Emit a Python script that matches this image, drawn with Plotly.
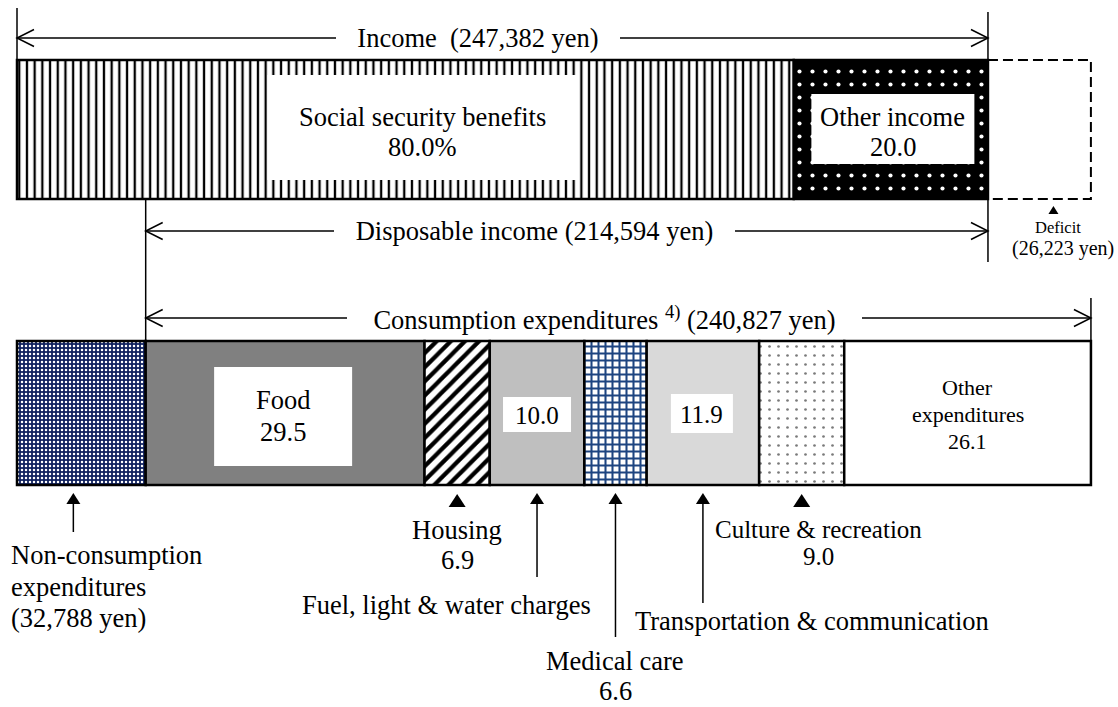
import plotly.graph_objects as go

# ---- household budget, monthly averages (yen / percent) ----
income_total = 247382
disposable_income = 214594
non_consumption = 32788
consumption_total = 240827
deficit = 26223

income_items = ["Social security benefits", "Other income"]
income_pct = [80.0, 20.0]

expense_items = ["Food", "Housing", "Fuel, light & water charges", "Medical care",
                 "Transportation & communication", "Culture & recreation",
                 "Other expenditures"]
expense_pct = [29.5, 6.9, 10.0, 6.6, 11.9, 9.0, 26.1]

# ---- canvas geometry (x axis in yen, y axis in screen pixels) ----
W, H = 1118, 707
PX_PER_YEN = 0.003925
LEFT_PX = 17
FONT = "Liberation Serif, Times New Roman, serif"


def px(n):
    """pixel length -> yen along the x axis"""
    return n / PX_PER_YEN


INC_Y, INC_H = 129.5, 139
EXP_Y, EXP_H = 413, 144
INC_TOP, INC_BOT = INC_Y - INC_H / 2, INC_Y + INC_H / 2
EXP_TOP, EXP_BOT = EXP_Y - EXP_H / 2, EXP_Y + EXP_H / 2

# income segments
inc_w = [p / 100 * income_total for p in income_pct]
inc_base = [sum(inc_w[:i]) for i in range(len(inc_w))]
inc_mid = [b + w / 2 for b, w in zip(inc_base, inc_w)]

# expenditure row: non-consumption then the consumption breakdown
exp_w = [p / 100 * consumption_total for p in expense_pct]
exp_base = [non_consumption + sum(exp_w[:i]) for i in range(len(exp_w))]
exp_mid = [b + w / 2 for b, w in zip(exp_base, exp_w)]
nc_mid = non_consumption / 2
disp_start = income_total - disposable_income
cons_end = non_consumption + consumption_total

# fill styles: (background, pattern shape, pattern colour, tile size, solidity)
income_styles = [
    ("white", "|", "black", 7.7, 0.3),
    ("black", ".", "white", 13, 0.08),
]
expense_styles = [
    ("#808080", "", None, 8, 0.3),
    ("white", "/", "black", 10, 0.42),
    ("#bfbfbf", "", None, 8, 0.3),
    ("white", "+", "#1d4480", 7, 0.5),
    ("#d9d9d9", "", None, 8, 0.3),
    ("white", ".", "#7a7a7a", 9, 0.07),
    ("white", "", None, 8, 0.3),
]
non_cons_style = ("#0f215e", ".", "white", 4, 0.3)

fig = go.Figure()


def add_segment(y, h, base, width, style):
    bg, shape, fg, size, solidity = style
    marker = dict(color=bg, line=dict(color="black", width=2.5))
    if shape:
        marker["pattern"] = dict(shape=shape, fgcolor=fg, fgopacity=1, size=size,
                                 solidity=solidity, fillmode="overlay")
    fig.add_trace(go.Bar(orientation="h", y=[y], x=[width], base=[base], width=h,
                         marker=marker, hoverinfo="skip", showlegend=False))


for b, w, st in zip(inc_base, inc_w, income_styles):
    add_segment(INC_Y, INC_H, b, w, st)
add_segment(EXP_Y, EXP_H, 0, non_consumption, non_cons_style)
for b, w, st in zip(exp_base, exp_w, expense_styles):
    add_segment(EXP_Y, EXP_H, b, w, st)

shapes = []
annotations = []


def seg(x0, y0, x1, y1, w=1.5):
    shapes.append(dict(type="line", xref="x", yref="y", x0=x0, y0=y0, x1=x1, y1=y1,
                       line=dict(color="black", width=w)))


def chevron(x_tip, y, direction):
    """open arrow head; direction -1 points left, +1 points right"""
    back = x_tip - direction * px(17)
    shapes.append(dict(type="path", xref="x", yref="y",
                       path=f"M{back},{y - 8.5} L{x_tip},{y} L{back},{y + 8.5}",
                       line=dict(color="black", width=1.5)))


def triangle(x, y_tip, half_w_px, h_px):
    shapes.append(dict(type="path", xref="x", yref="y",
                       path=(f"M{x - px(half_w_px)},{y_tip + h_px} L{x},{y_tip} "
                             f"L{x + px(half_w_px)},{y_tip + h_px} Z"),
                       fillcolor="black", line=dict(width=0)))


def white_box(xc, half_w_px, y0, y1):
    shapes.append(dict(type="rect", xref="x", yref="y",
                       x0=xc - px(half_w_px), x1=xc + px(half_w_px), y0=y0, y1=y1,
                       fillcolor="white", line=dict(width=0)))


def label(x, y, text, size=26.5, xanchor="center", **kw):
    annotations.append(dict(x=x, y=y, xref="x", yref="y", text=text, showarrow=False,
                            xanchor=xanchor, yanchor="middle",
                            font=dict(family=FONT, size=size, color="black"), **kw))


def span_arrow(x0, x1, y, text, shift_px, gap_px):
    seg(x0, y, x1, y)
    chevron(x0, y, -1)
    chevron(x1, y, +1)
    label((x0 + x1) / 2 + px(shift_px), y, text, bgcolor="white", width=gap_px,
          borderpad=0, borderwidth=0)


# guide lines
seg(0, 8, 0, INC_TOP)
seg(income_total, 12, income_total, 262)
seg(disp_start, INC_BOT, disp_start, EXP_TOP)
seg(cons_end, 298, cons_end, EXP_TOP)

span_arrow(0, income_total, 38, "Income\u00a0 (247,382 yen)", -24, 284)
span_arrow(disp_start, income_total, 231, "Disposable income (214,594 yen)", -32, 401)
span_arrow(non_consumption, cons_end, 318,
           "Consumption expenditures <sup>4)</sup> (240,827 yen)", -14, 515)

# deficit outline
shapes.append(dict(type="rect", xref="x", yref="y", x0=income_total, x1=income_total + deficit,
                   y0=INC_TOP, y1=INC_BOT, fillcolor="rgba(0,0,0,0)",
                   line=dict(color="black", width=2, dash="10px,5px")))
def_mid = income_total + deficit / 2
triangle(def_mid + px(14), 206, 5, 8)
label(def_mid + px(19), 227, "Deficit", size=16.5)
label(def_mid + px(24), 248, "(26,223 yen)", size=20)

# income labels
ss_x = inc_mid[0] + px(17)
white_box(ss_x, 155, 75, 180)
label(ss_x, 117, income_items[0])
label(ss_x, 147, f"{income_pct[0]:.1f}%")
oi_x = inc_mid[1] + px(2)
white_box(oi_x, 81.5, 94, 164)
label(oi_x, 117, income_items[1])
label(oi_x, 147, f"{income_pct[1]:.1f}")

# labels inside the expenditure bar
food_x = exp_mid[0] - px(2)
white_box(food_x, 69, 367, 466)
label(food_x, 400, expense_items[0])
label(food_x, 432, f"{expense_pct[0]:.1f}")
white_box(exp_mid[2], 34, 397, 432)
label(exp_mid[2], 415, f"{expense_pct[2]:.1f}", size=25)
white_box(exp_mid[4] - px(1), 31, 394, 433)
label(exp_mid[4] - px(1), 414, f"{expense_pct[4]:.1f}", size=25)
label(exp_mid[6], 387, "Other", size=22)
label(exp_mid[6], 414, "expenditures", size=22)
label(exp_mid[6], 441, f"{expense_pct[6]:.1f}", size=22)


# call-outs below the expenditure bar
def up_arrow(x, y_tail):
    seg(x, y_tail, x, EXP_BOT + 14)
    triangle(x, EXP_BOT + 8, 7, 11)


up_arrow(nc_mid - px(8), 532)
label(0, 555, "Non-consumption", xanchor="left", xshift=-8)
label(0, 587, "expenditures", xanchor="left", xshift=-8)
label(0, 618, "(32,788 yen)", xanchor="left", xshift=-8)

triangle(exp_mid[1], EXP_BOT + 9, 8.5, 13)
label(exp_mid[1], 530, expense_items[1])
label(exp_mid[1], 560, f"{expense_pct[1]:.1f}")

up_arrow(exp_mid[2], 577)
label(exp_mid[2] + px(56), 605, expense_items[2], xanchor="right")

up_arrow(exp_mid[3], 637)
label(exp_mid[3], 661, expense_items[3])
label(exp_mid[3], 691, f"{expense_pct[3]:.1f}")

up_arrow(exp_mid[4], 603)
label(exp_mid[4] + px(109), 621, expense_items[4])

triangle(exp_mid[5], EXP_BOT + 9, 8.5, 13)
label(exp_mid[5] + px(17), 529, expense_items[5], size=25)
label(exp_mid[5] + px(17), 556, f"{expense_pct[5]:.1f}", size=25)

fig.update_layout(
    width=W, height=H,
    margin=dict(l=0, r=0, t=0, b=0, pad=0),
    paper_bgcolor="white", plot_bgcolor="white",
    barmode="overlay",
    xaxis=dict(range=[-px(LEFT_PX), px(W - LEFT_PX)], visible=False, fixedrange=True),
    yaxis=dict(range=[H, 0], visible=False, fixedrange=True),
    shapes=shapes, annotations=annotations,
    showlegend=False,
)

fig.write_html("out.html", config={"displayModeBar": False})
